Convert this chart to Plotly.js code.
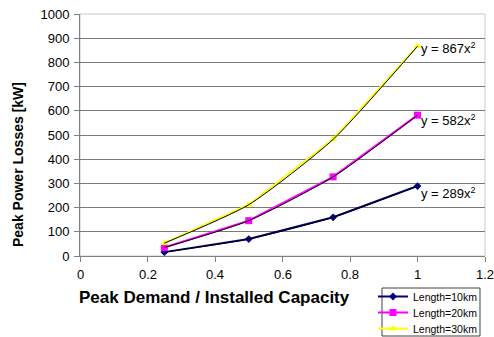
<!DOCTYPE html>
<html>
<head>
<meta charset="utf-8">
<script src="https://cdn.plot.ly/plotly-3.0.1.min.js"></script>
<style>html,body{margin:0;padding:0;background:#fff;}#chart{width:494px;height:337px;}</style>
</head>
<body>
<div id="chart"></div>
<script>
var loading = [0.25, 0.5, 0.75, 1.0];
var losses10 = [16, 70, 160, 289];
var losses20 = [35, 146, 327, 582];
var losses30 = [53, 212, 482, 867];
var seriesNames = ["Length=10km", "Length=20km", "Length=30km"];
var trendLabels = ["y = 289x<sup>2</sup>", "y = 582x<sup>2</sup>", "y = 867x<sup>2</sup>"];
var xTicks = [0, 0.2, 0.4, 0.6, 0.8, 1, 1.2];
var yTicks = [0, 100, 200, 300, 400, 500, 600, 700, 800, 900, 1000];

var font = "Arial, 'Liberation Sans', sans-serif";
var allSeries = [losses10, losses20, losses30];
var colors = ["#000080", "#ff00ff", "#ffff00"];
var symbols = ["diamond", "square", "triangle-up"];
var sizes = [6, 7, 7];
var legendIds = ["legend", "legend2", "legend3"];

var W = 494, H = 337, ML = 80, MR = 9, MT = 14, MB = 81;
var pw = W - ML - MR, ph = H - MT - MB;
function px(x) { return (x - ML) / pw; }
function py(y) { return (H - MB - y) / ph; }

var traces = [];
for (var i = 0; i < 3; i++) {
  traces.push({
    x: loading, y: allSeries[i], name: seriesNames[i], type: "scatter", mode: "lines+markers",
    legend: legendIds[i],
    line: {color: colors[i], width: 2},
    marker: {color: colors[i], symbol: symbols[i], size: sizes[i]}
  });
}
for (var j = 0; j < 3; j++) {
  traces.push({
    x: loading, y: allSeries[j], type: "scatter", mode: "lines", showlegend: false, hoverinfo: "skip",
    line: {color: "#000000", width: 1, shape: "spline", smoothing: 0.6}
  });
}

var annotations = [];
var yShifts = [-7, -5, -2];
for (var k = 0; k < 3; k++) {
  annotations.push({
    x: loading[3], y: allSeries[k][3], xref: "x", yref: "y", text: trendLabels[k],
    showarrow: false, xanchor: "left", yanchor: "middle", xshift: 1, yshift: yShifts[k],
    font: {family: font, size: 13, color: "#000"}
  });
}
annotations.push({
  x: px(214), y: py(297), xref: "paper", yref: "paper",
  xanchor: "center", yanchor: "middle",
  text: "<b>Peak Demand / Installed Capacity</b>",
  showarrow: false, font: {family: font, size: 17, color: "#000"}
});
annotations.push({
  x: px(18), y: py(165), xref: "paper", yref: "paper",
  xanchor: "center", yanchor: "middle", textangle: -90,
  text: "<b>Peak Power Losses [kW]</b>",
  showarrow: false, font: {family: font, size: 14, color: "#000"}
});
for (var t = 0; t < xTicks.length; t++) {
  annotations.push({
    x: xTicks[t], y: py(274.5), xref: "x", yref: "paper",
    xanchor: "center", yanchor: "middle", showarrow: false,
    text: String(xTicks[t]), font: {family: font, size: 13, color: "#000"}
  });
}

var layout = {
  width: W, height: H,
  margin: {l: ML, r: MR, t: MT, b: MB, autoexpand: false},
  paper_bgcolor: "#fff", plot_bgcolor: "#fff",
  showlegend: true,
  xaxis: {
    range: [0, 1.2], tickvals: xTicks, showticklabels: false,
    showgrid: false, zeroline: false, showline: true, linecolor: "#808080", linewidth: 1,
    ticks: "outside", ticklen: 5, tickcolor: "#808080", fixedrange: true
  },
  yaxis: {
    range: [0, 1000], tickvals: yTicks, ticktext: yTicks.map(String),
    showgrid: true, gridcolor: "#7a7a7a", gridwidth: 1, zeroline: false,
    showline: true, linecolor: "#808080", linewidth: 1,
    ticks: "outside", ticklen: 5, tickcolor: "#808080", ticklabelstandoff: 2,
    tickfont: {family: font, size: 13, color: "#000"},
    fixedrange: true
  },
  shapes: [
    {type: "rect", xref: "paper", yref: "paper", x0: 0, x1: 1, y0: 0, y1: 1,
     line: {color: "#c8c8c8", width: 1}, layer: "below"},
    {type: "rect", xref: "paper", yref: "paper", x0: px(382), x1: px(480), y0: py(336), y1: py(288),
     line: {color: "#404040", width: 1}, fillcolor: "rgba(0,0,0,0)", layer: "above"}
  ],
  annotations: annotations
};
var rowY = [296.5, 312.5, 328.5];
for (var m = 0; m < 3; m++) {
  layout[legendIds[m]] = {
    x: px(373), y: py(rowY[m]), xanchor: "left", yanchor: "middle",
    borderwidth: 0, bgcolor: "rgba(0,0,0,0)",
    font: {family: font, size: 10.5, color: "#000"},
    itemwidth: 30
  };
}

Plotly.newPlot("chart", traces, layout, {displayModeBar: false, staticPlot: true});
</script>
</body>
</html>
